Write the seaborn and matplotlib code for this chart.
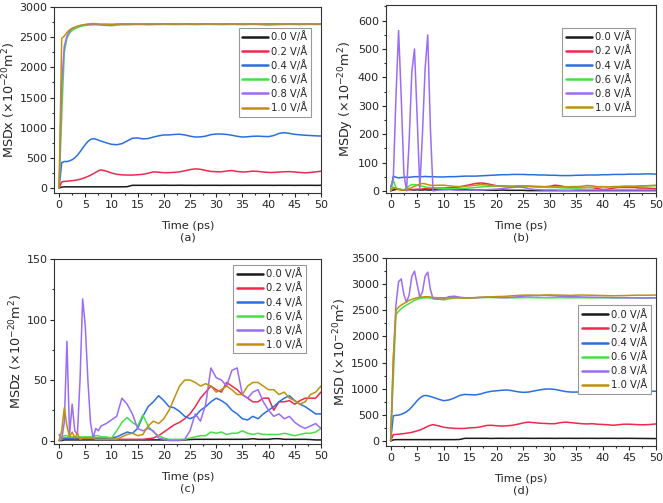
import matplotlib
matplotlib.use('Agg')
import matplotlib.pyplot as plt
from matplotlib.ticker import AutoMinorLocator, MultipleLocator
import seaborn as sns

# time axis (ps)
time_ps = [0, 0.5, 1, 1.5, 2, 2.5, 3, 3.5, 4, 4.5, 5, 5.5, 6, 6.5, 7, 7.5, 8,
           9, 10, 11, 12, 13, 14, 15, 16, 17, 18,
           19, 20, 21, 22, 23, 24, 25, 26, 27, 28,
           29, 30, 31, 32, 33, 34, 35, 36, 37, 38,
           39, 40, 41, 42, 43, 44, 45, 46, 47, 48, 49, 50]

fields = ['0.0 V/Å', '0.2 V/Å', '0.4 V/Å', '0.6 V/Å', '0.8 V/Å', '1.0 V/Å']
colors = ['#1a1a1a', '#f0284e', '#2a6fe0', '#44e044', '#9b6cf5', '#c0900f']

# (a) MSDx
a_00 = [0, 15, 20, 20, 20, 20, 20, 20, 20, 20, 20, 20, 20, 20, 20, 20, 20,
        20, 20, 20, 20, 22, 45, 45, 45, 45, 45,
        45, 46, 45, 45, 46, 45, 45, 44, 45, 45,
        45, 45, 44, 45, 45, 45, 44, 45, 45, 45,
        45, 45, 44, 45, 45, 45, 44, 45, 45, 45, 44, 45]
a_02 = [0, 100, 110, 112, 118, 122, 128, 135, 145, 158, 175, 192, 212, 235, 260, 285, 300,
        280, 250, 228, 218, 215, 215, 220, 228, 245, 268,
        262, 255, 255, 260, 268, 285, 305, 318, 310, 292,
        275, 270, 268, 282, 290, 275, 265, 270, 280, 275,
        265, 258, 258, 265, 270, 272, 265, 258, 252, 258, 268, 278]
a_04 = [0, 420, 440, 438, 450, 470, 500, 545, 600, 660, 720, 770, 805, 818, 810, 795, 778,
        750, 725, 718, 735, 780, 825, 830, 815, 820, 845,
        865, 880, 880, 888, 892, 880, 860, 845, 848, 860,
        885, 895, 895, 888, 875, 858, 845, 850, 858, 860,
        855, 852, 870, 905, 918, 905, 890, 882, 875, 870, 865, 862]
a_06 = [0, 1200, 2250, 2480, 2570, 2610, 2640, 2660, 2675, 2690, 2695, 2700, 2705, 2708, 2710, 2708, 2705,
        2700, 2690, 2700, 2705, 2705, 2708, 2710, 2710, 2705, 2708,
        2710, 2712, 2710, 2708, 2710, 2712, 2710, 2708, 2710, 2712,
        2712, 2710, 2708, 2710, 2712, 2710, 2708, 2710, 2712, 2710,
        2705, 2700, 2705, 2708, 2710, 2712, 2710, 2708, 2710, 2712, 2710, 2712]
a_08 = [0, 1700, 2350, 2520, 2600, 2640, 2660, 2680, 2690, 2700, 2705, 2710, 2712, 2712, 2710, 2708, 2705,
        2695, 2700, 2715, 2720, 2718, 2720, 2718, 2715, 2718, 2720,
        2718, 2720, 2722, 2720, 2718, 2720, 2722, 2720, 2718, 2720,
        2722, 2720, 2718, 2720, 2722, 2720, 2718, 2720, 2722, 2720,
        2718, 2720, 2722, 2720, 2718, 2720, 2722, 2720, 2718, 2720, 2722, 2720]
a_10 = [0, 2480, 2520, 2580, 2620, 2650, 2665, 2680, 2695, 2705, 2712, 2718, 2722, 2725, 2722, 2720, 2718,
        2718, 2715, 2718, 2720, 2722, 2720, 2718, 2720, 2722, 2720,
        2720, 2722, 2720, 2718, 2720, 2722, 2720, 2718, 2720, 2722,
        2720, 2718, 2720, 2722, 2720, 2718, 2720, 2722, 2720, 2718,
        2720, 2722, 2720, 2718, 2720, 2722, 2720, 2718, 2720, 2722, 2720, 2718]

# (b) MSDy
b_00 = [0, 3, 5, 6, 4, 3, 4, 5, 4, 3, 4, 3, 3, 4, 3, 3, 4,
        5, 8, 6, 5, 4, 4, 3, 3, 3, 2,
        2, 2, 3, 2, 2, 2, 2, 1, 1, 1,
        1, 1, 1, 1, 1, 1, 1, 1, 1, 1,
        1, 1, 1, 1, 1, 1, 1, 1, 1, 1, 1, 1]
b_02 = [0, 12, 8, 5, 4, 3, 3, 4, 5, 5, 6, 6, 7, 8, 8, 9, 10,
        10, 10, 11, 12, 14, 18, 22, 26, 28, 26,
        22, 18, 16, 15, 14, 14, 15, 16, 15, 14,
        14, 16, 20, 18, 14, 12, 12, 11, 12, 12,
        8, 5, 6, 10, 12, 12, 12, 12, 10, 10, 9, 8]
b_04 = [0, 52, 48, 46, 47, 48, 48, 48, 49, 50, 50, 50, 50, 51, 50, 50, 50,
        49, 49, 50, 50, 51, 52, 52, 52, 53, 54,
        55, 56, 57, 57, 58, 58, 58, 57, 57, 56,
        56, 55, 55, 54, 54, 54, 55, 55, 56, 56,
        56, 57, 57, 58, 58, 58, 59, 59, 59, 60, 60, 59]
b_06 = [0, 38, 12, 6, 5, 4, 8, 18, 22, 22, 20, 18, 16, 14, 12, 12, 11,
        10, 9, 8, 8, 8, 9, 10, 12, 14, 15,
        16, 17, 17, 16, 15, 15, 15, 16, 15, 14,
        13, 12, 12, 11, 10, 10, 10, 11, 12, 12,
        13, 14, 14, 15, 15, 16, 16, 16, 17, 17, 18, 18]
b_08 = [15, 40, 330, 565, 330, 60, 0, 180, 420, 500, 260, 10, 200, 430, 550, 220, 0,
        3, 3, 4, 3, 2, 2, 3, 3, 3, 4,
        5, 6, 8, 10, 12, 14, 12, 8, 5, 4,
        3, 3, 3, 2, 2, 2, 3, 3, 3, 3,
        3, 3, 3, 3, 3, 3, 3, 3, 3, 3, 3, 3]
b_10 = [0, 12, 8, 5, 4, 4, 5, 8, 12, 16, 20, 24, 26, 25, 22, 20, 19,
        20, 20, 18, 16, 15, 16, 18, 20, 22, 21,
        19, 18, 18, 17, 17, 18, 18, 17, 16, 16,
        15, 15, 14, 15, 14, 15, 15, 16, 19, 18,
        15, 15, 14, 15, 15, 16, 16, 16, 17, 18, 19, 20]

# (c) MSDz
c_00 = [0, 0, 0.5, 0.5, 0.5, 0.5, 0.5, 0.5, 0.5, 0.5, 0.5, 0.5, 0.5, 0.5, 0.5, 0.5, 0.5,
        0.5, 0.5, 0.5, 0.5, 0.5, 0.5, 0.5, 0.5, 0.5, 0.5,
        0.5, 0.5, 0.5, 0.5, 0.5, 0.5, 0.8, 1, 1, 1,
        1, 1, 1, 1, 1, 1, 1, 1, 1.5, 1,
        1, 1, 1.5, 1.5, 1, 1, 1, 1, 1, 0.8, 0.5, 0.5]
c_02 = [0, 0.5, 1.5, 1.5, 1.5, 1.5, 1.5, 1.5, 1.5, 1.5, 1.5, 1.5, 1.5, 1.5, 1.5, 1.5, 1.5,
        1, 1, 1, 1, 1, 1, 1, 1, 1.5, 2,
        4, 7, 10, 13, 15, 18, 22, 28, 35, 40,
        45, 42, 40, 48, 45, 42, 38, 35, 32, 32,
        35, 35, 25, 32, 32, 33, 30, 33, 35, 35, 35, 40]
c_04 = [0, 1, 2, 2, 2, 2, 2, 2, 2, 2, 2, 2, 2, 2, 2, 2, 2,
        2, 2, 3, 5, 7, 6, 10, 20, 28, 32,
        37, 33, 28, 27, 24, 20, 18, 20, 25, 28,
        32, 35, 33, 30, 25, 22, 18, 17, 20, 18,
        22, 25, 28, 32, 35, 37, 33, 30, 28, 25, 22, 22]
c_06 = [0, 2, 4, 4, 3, 3, 3, 3, 3, 3, 3, 3, 3, 3, 4, 4, 3,
        3, 2, 8, 15, 19, 15, 12, 21, 12, 7,
        4, 2, 1, 1, 1, 1, 2, 3, 4, 4,
        7, 6, 7, 5, 6, 6, 8, 6, 5, 6,
        5, 5, 5, 5, 6, 5, 4, 5, 6, 6, 7, 10]
c_08 = [5, 1, 15, 82, 5, 30, 8, 5, 50, 117, 95, 50, 15, 2, 10, 8, 12,
        14, 17, 20, 35, 30, 22, 10, 8, 10, 8,
        2, 1, 0, 0, 0, 1, 8, 22, 16, 30,
        60, 52, 50, 45, 58, 60, 38, 35, 40, 42,
        32, 25, 20, 22, 18, 20, 15, 12, 10, 12, 14, 10]
c_10 = [0, 8, 27, 12, 3, 7, 2, 6, 1, 2, 2, 2, 2, 2, 1, 1, 1,
        1, 1, 1, 3, 5, 6, 4, 5, 12, 16,
        14, 18, 25, 35, 45, 50, 50, 48, 45, 47,
        45, 40, 42, 45, 42, 38, 38, 45, 48, 48,
        45, 42, 42, 38, 40, 35, 33, 30, 32, 38, 40, 45]

# (d) MSD
d_00 = [0, 20, 25, 25, 25, 25, 25, 25, 25, 25, 25, 25, 25, 25, 25, 25, 25,
        25, 25, 25, 25, 28, 50, 50, 50, 50, 50,
        48, 50, 50, 49, 50, 50, 51, 50, 49, 50,
        50, 50, 49, 50, 50, 50, 49, 50, 50, 50,
        49, 50, 50, 50, 49, 50, 50, 49, 48, 47, 46, 45]
d_02 = [0, 120, 125, 130, 135, 140, 148, 155, 165, 178, 192, 208, 228, 252, 280, 300, 312,
        290, 262, 250, 240, 238, 240, 250, 255, 270, 295,
        300, 290, 285, 290, 300, 320, 345, 360, 350, 340,
        335, 330, 330, 350, 360, 350, 340, 330, 325, 330,
        320, 315, 310, 300, 310, 320, 320, 315, 310, 310, 315, 325]
d_04 = [0, 480, 490, 495, 510, 530, 560, 600, 650, 710, 770, 820, 855, 870, 865, 850, 835,
        800, 770, 785, 820, 870, 890, 885, 880, 900, 930,
        950, 960, 970, 975, 960, 940, 930, 935, 955, 975,
        990, 995, 985, 965, 945, 935, 935, 940, 945, 940,
        935, 945, 975, 1005, 1010, 995, 985, 975, 965, 960, 955, 950]
d_06 = [0, 1200, 2420, 2480, 2530, 2570, 2600, 2630, 2660, 2690, 2710, 2725, 2735, 2740, 2740, 2735, 2730,
        2715, 2700, 2720, 2735, 2740, 2740, 2740, 2742, 2745, 2745,
        2745, 2745, 2745, 2742, 2740, 2740, 2742, 2745, 2742, 2740,
        2740, 2738, 2740, 2742, 2740, 2738, 2740, 2742, 2740, 2738,
        2740, 2742, 2740, 2738, 2740, 2742, 2740, 2738, 2735, 2735, 2738, 2740]
d_08 = [0, 1500, 2600, 3050, 3100, 2800, 2650, 2800, 3150, 3250, 3000, 2750, 2850, 3150, 3230, 2900, 2720,
        2710, 2720, 2760, 2770, 2750, 2740, 2735, 2740, 2745, 2750,
        2750, 2745, 2740, 2742, 2750, 2760, 2770, 2775, 2778, 2780,
        2785, 2780, 2775, 2770, 2765, 2760, 2758, 2755, 2752, 2750,
        2748, 2745, 2745, 2742, 2740, 2740, 2738, 2740, 2738, 2735, 2735, 2738]
d_10 = [0, 1600, 2500, 2560, 2600, 2630, 2660, 2690, 2710, 2725, 2740, 2750, 2755, 2760, 2760, 2755, 2745,
        2740, 2740, 2742, 2740, 2738, 2735, 2738, 2742, 2750, 2755,
        2758, 2762, 2765, 2770, 2778, 2785, 2790, 2792, 2790, 2788,
        2790, 2795, 2792, 2790, 2788, 2785, 2790, 2792, 2790, 2788,
        2785, 2782, 2780, 2778, 2780, 2782, 2785, 2788, 2790, 2788, 2790, 2792]

sns.set_style('ticks')
plt.rcParams['font.family'] = ['DejaVu Sans']
plt.rcParams['mathtext.default'] = 'regular'

fig = plt.figure(figsize=(6.63, 5.03), dpi=100)

panels = [
    ([0.082, 0.616, 0.402, 0.370], [a_00, a_02, a_04, a_06, a_08, a_10], 'MSDx', (-85, 3000), 500, '(a)', (0.963, 0.887)),
    ([0.582, 0.616, 0.407, 0.374], [b_00, b_02, b_04, b_06, b_08, b_10], 'MSDy', (-8, 655), 100, '(b)', (0.922, 0.878)),
    ([0.082, 0.117, 0.402, 0.368], [c_00, c_02, c_04, c_06, c_08, c_10], 'MSDz', (-3, 150), 50, '(c)', (0.943, 0.968)),
    ([0.582, 0.113, 0.407, 0.374], [d_00, d_02, d_04, d_06, d_08, d_10], 'MSD', (-100, 3500), 500, '(d)', (0.981, 0.748)),
]

for rect, series, name, ylim, ystep, tag, anchor in panels:
    ax = fig.add_axes(rect)
    for vals, lab, col in zip(series, fields, colors):
        sns.lineplot(x=time_ps, y=vals, color=col, label=lab, ax=ax, linewidth=1.1)
    ax.set_xlim(-0.9, 50)
    ax.set_ylim(*ylim)
    ax.xaxis.set_major_locator(MultipleLocator(5))
    ax.yaxis.set_major_locator(MultipleLocator(ystep))
    ax.xaxis.set_minor_locator(AutoMinorLocator(2))
    ax.yaxis.set_minor_locator(AutoMinorLocator(2))
    ax.tick_params(which='major', direction='out', length=3, width=0.8, labelsize=8, pad=2)
    ax.tick_params(which='minor', direction='out', length=1.6, width=0.8)
    for sp in ax.spines.values():
        sp.set_color('#333333')
        sp.set_linewidth(0.8)
    ax.set_xlabel('Time (ps)\n' + tag, fontsize=8.2, labelpad=8)
    ax.set_ylabel(name + r' ($\times$10$^{-20}$m$^{2}$)', fontsize=9.2, labelpad=1)
    leg = ax.legend(loc='upper right', bbox_to_anchor=anchor, fontsize=7.2, frameon=True,
                    fancybox=False, framealpha=1, edgecolor='#999999', borderpad=0.35,
                    labelspacing=0.32, handlelength=2.6, handletextpad=0.3, borderaxespad=0)
    leg.get_frame().set_linewidth(0.8)
    for h in leg.get_lines():
        h.set_linewidth(1.8)

fig.savefig('out.png', dpi=100)
